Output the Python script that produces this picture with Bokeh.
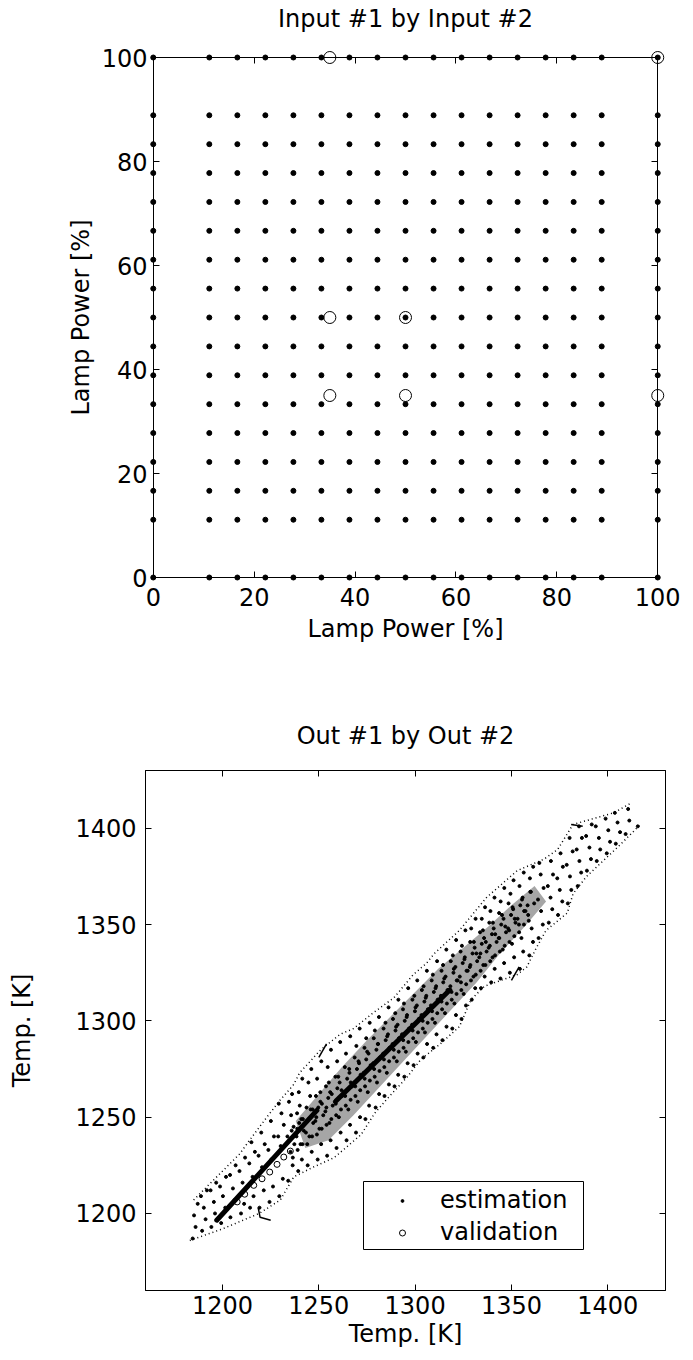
from bokeh.plotting import figure
from bokeh.models import LinearAxis, FixedTicker, Range1d, Legend, LegendItem, BoxAnnotation
from bokeh.layouts import column
from bokeh.embed import file_html
from bokeh.resources import INLINE

FONT = "DejaVu Sans"
FS = "24px"

# ---------------- top panel data ----------------
grid_levels = [11.11, 16.67, 22.22, 27.78, 33.33, 38.89, 44.44, 50.0,
               55.56, 61.11, 66.67, 72.22, 77.78, 83.33, 88.89]
edge_levels = [0.0, 100.0]
val1_x = [35, 100, 35, 50, 35, 50, 100]
val1_y = [100, 100, 50, 50, 35, 35, 35]
ticks1 = [0, 20, 40, 60, 80, 100]

# ---------------- bottom panel data ----------------
ticks2 = [1200, 1250, 1300, 1350, 1400]
est_x = [
    1184.5, 1186.0, 1185.2, 1187.1,
    1189.4, 1191.2, 1190.3, 1188.8, 1191.9,
    1194.2, 1196.1, 1195.5, 1193.8, 1196.7,
    1199.3, 1201.4, 1200.2, 1198.7, 1201.8,
    1204.1, 1206.3, 1205.4, 1203.9, 1206.8,
    1209.6, 1211.2, 1210.4, 1208.8, 1211.7,
    1214.3, 1216.1, 1215.6, 1213.9, 1216.8, 1215.0,
    1219.2, 1221.4, 1220.5, 1218.7, 1221.9, 1220.1,
    1224.4, 1226.2, 1225.3, 1223.8, 1226.7, 1225.1,
    1229.5, 1231.3, 1230.2, 1228.9, 1231.8, 1230.6, 1229.2,
    1234.1, 1236.4, 1235.3, 1233.7, 1236.9, 1235.6, 1234.5, 1236.1,
    1239.3, 1241.2, 1240.5, 1238.8, 1241.7, 1240.1, 1239.6, 1241.4,
    1244.2, 1246.3, 1245.1, 1243.8, 1246.8, 1245.5, 1244.6, 1246.1,
    1249.4, 1251.2, 1250.3, 1248.7, 1251.6, 1250.8, 1249.1, 1251.3,
    1254.3, 1256.1, 1255.5, 1253.9, 1256.7, 1255.2, 1254.6, 1256.3,
    1259.2, 1261.3, 1260.4, 1258.8, 1261.8, 1260.1, 1259.5, 1261.1,
    1264.4, 1266.2, 1265.3, 1263.7, 1266.6, 1265.8, 1264.1, 1266.3,
    1269.3, 1271.4, 1270.2, 1268.9, 1271.7, 1270.6, 1269.5, 1271.2,
    1274.2, 1276.1, 1275.4, 1273.8, 1276.9, 1275.1, 1274.6, 1276.4,
    1279.5, 1281.3, 1280.2, 1278.7, 1281.8, 1280.6, 1279.1, 1281.2,
    1284.1, 1286.4, 1285.3, 1283.8, 1286.7, 1285.5, 1284.6, 1286.2,
    1289.3, 1291.2, 1290.5, 1288.9, 1291.6, 1290.1, 1289.7, 1291.3,
    1294.4, 1296.1, 1295.2, 1293.8, 1296.8, 1295.6, 1294.2, 1296.4,
    1299.2, 1301.3, 1300.4, 1298.7, 1301.9, 1300.2, 1299.6, 1301.1,
    1304.3, 1306.2, 1305.1, 1303.9, 1306.6, 1305.5, 1304.4, 1306.1,
    1309.4, 1311.1, 1310.3, 1308.8, 1311.7, 1310.6, 1309.2, 1311.4,
    1314.2, 1316.3, 1315.5, 1313.7, 1316.8, 1315.1, 1314.5, 1316.2,
    1319.3, 1321.2, 1320.4, 1318.9, 1321.6, 1320.1, 1319.6, 1321.3,
    1324.1, 1326.4, 1325.2, 1323.8, 1326.7, 1325.6, 1324.3, 1326.1,
    1329.4, 1331.2, 1330.3, 1328.7, 1331.8, 1330.5, 1329.1, 1331.4,
    1334.2, 1336.1, 1335.4, 1333.9, 1336.7, 1335.2, 1334.6, 1336.3,
    1339.5, 1341.3, 1340.2, 1338.8, 1341.6, 1340.4, 1339.1, 1341.2,
    1344.3, 1346.2, 1345.5, 1343.7, 1346.8, 1345.1, 1344.4, 1346.3,
    1349.2, 1351.4, 1350.3, 1348.8, 1351.7, 1350.6, 1349.5, 1351.1,
    1354.4, 1356.1, 1355.2, 1353.9, 1356.6, 1355.5, 1354.2, 1356.4,
    1359.3, 1361.2, 1360.5, 1358.7, 1361.8, 1360.1, 1359.6, 1361.3,
    1364.1, 1366.3, 1365.4, 1363.8, 1366.7, 1365.2, 1364.5,
    1369.4, 1371.2, 1370.3, 1368.9, 1371.6, 1370.5,
    1374.2, 1376.4, 1375.1, 1373.8, 1376.7, 1375.5,
    1379.3, 1381.1, 1380.4, 1378.7, 1381.8, 1380.2,
    1384.4, 1386.2, 1385.3, 1383.9, 1386.6, 1385.1,
    1389.2, 1391.3, 1390.5, 1388.8, 1391.7,
    1394.3, 1396.1, 1395.4, 1393.8,
    1399.5, 1401.2, 1400.3, 1398.9,
    1404.2, 1406.4, 1405.1, 1403.7,
    1409.3, 1411.2, 1410.6,
    1415.6,
]
est_y = [
    1187, 1193, 1199, 1205,
    1191, 1197, 1203, 1209, 1212,
    1193, 1200, 1206, 1212, 1216,
    1195, 1203, 1209, 1214, 1219,
    1198, 1207, 1213, 1220, 1225,
    1200, 1205, 1216, 1222, 1229,
    1203, 1209, 1219, 1226, 1232, 1237,
    1203, 1212, 1224, 1230, 1236, 1242,
    1206, 1214, 1228, 1233, 1240, 1248,
    1209, 1218, 1235, 1240, 1246, 1252, 1257,
    1217, 1225, 1232, 1240, 1245, 1251, 1258, 1262,
    1222, 1228, 1236, 1244, 1249, 1256, 1263, 1270,
    1225, 1232, 1240, 1248, 1254, 1261, 1268, 1275,
    1228, 1236, 1244, 1250, 1257, 1263, 1270, 1279,
    1230, 1238, 1247, 1255, 1262, 1268, 1276, 1285,
    1234, 1242, 1250, 1257, 1264, 1271, 1279, 1289,
    1238, 1246, 1254, 1261, 1268, 1275, 1283, 1292,
    1242, 1250, 1258, 1266, 1272, 1279, 1287, 1296,
    1249, 1256, 1263, 1270, 1277, 1284, 1291, 1299,
    1255, 1262, 1268, 1275, 1281, 1288, 1295, 1302,
    1261, 1267, 1273, 1280, 1286, 1292, 1299, 1307,
    1266, 1272, 1279, 1285, 1291, 1297, 1304, 1311,
    1271, 1278, 1284, 1290, 1296, 1302, 1309, 1317,
    1277, 1283, 1289, 1295, 1301, 1307, 1313, 1321,
    1281, 1288, 1294, 1300, 1306, 1312, 1318, 1326,
    1286, 1293, 1299, 1305, 1311, 1317, 1324, 1331,
    1290, 1297, 1304, 1310, 1316, 1322, 1329, 1337,
    1296, 1303, 1309, 1315, 1321, 1327, 1334, 1342,
    1301, 1308, 1314, 1320, 1326, 1332, 1339, 1347,
    1311, 1317, 1323, 1329, 1335, 1341, 1348, 1353,
    1317, 1323, 1329, 1335, 1341, 1347, 1353, 1359,
    1320, 1327, 1333, 1339, 1345, 1351, 1357, 1364,
    1322, 1330, 1337, 1343, 1349, 1355, 1362, 1369,
    1325, 1333, 1340, 1347, 1353, 1359, 1366, 1373,
    1327, 1336, 1343, 1350, 1357, 1363, 1370, 1377,
    1334, 1341, 1348, 1355, 1361, 1367, 1374, 1380,
    1343, 1350, 1357, 1363, 1369, 1376, 1382,
    1351, 1358, 1364, 1370, 1376, 1383,
    1355, 1362, 1368, 1374, 1380, 1387,
    1361, 1368, 1375, 1381, 1388, 1395,
    1370, 1377, 1383, 1389, 1395, 1401,
    1378, 1384, 1390, 1396, 1402,
    1383, 1389, 1395, 1401,
    1387, 1393, 1399, 1405,
    1392, 1398, 1403, 1408,
    1397, 1404, 1410,
    1401,
]
# additional estimation samples in the dense middle of the cloud
core_pts_x = [
    1236.5, 1237.3, 1235.9,
    1239.0, 1238.4, 1239.8, 1238.7,
    1241.5, 1242.2, 1240.9,
    1244.0, 1243.3, 1244.8, 1243.6,
    1246.5, 1247.1, 1245.8,
    1249.0, 1248.2, 1249.7, 1248.5,
    1251.5, 1252.3, 1250.8,
    1254.0, 1253.4, 1254.9, 1253.7,
    1256.5, 1257.2, 1255.9,
    1259.0, 1258.3, 1259.6, 1258.6,
    1261.5, 1262.1, 1260.8,
    1264.0, 1263.2, 1264.7, 1263.5,
    1266.5, 1267.3, 1265.9,
    1269.0, 1268.4, 1269.8, 1268.6,
    1271.5, 1272.2, 1270.9,
    1274.0, 1273.3, 1274.6, 1273.7,
    1276.5, 1277.1, 1275.8,
    1279.0, 1278.2, 1279.9, 1278.5,
    1281.5, 1282.3, 1280.8,
    1284.0, 1283.4, 1284.7, 1283.6,
    1286.5, 1287.2, 1285.9,
    1289.0, 1288.3, 1289.8, 1288.5,
    1291.5, 1292.1, 1290.9,
    1294.0, 1293.2, 1294.6, 1293.7,
    1296.5, 1297.3, 1295.8,
    1299.0, 1298.4, 1299.9, 1298.6,
    1301.5, 1302.2, 1300.9,
    1304.0, 1303.3, 1304.8, 1303.5,
    1306.5, 1307.1, 1305.8,
    1309.0, 1308.2, 1309.7, 1308.6,
    1311.5, 1312.3, 1310.9,
    1314.0, 1313.4, 1314.6, 1313.7,
    1316.5, 1317.2, 1315.8,
    1319.0, 1318.3, 1319.9, 1318.5,
    1321.5, 1322.1, 1320.9,
    1324.0, 1323.2, 1324.7, 1323.6,
    1326.5, 1327.3, 1325.8,
    1329.0, 1328.4, 1329.8, 1328.6,
    1331.5, 1332.2, 1330.9,
    1334.0, 1333.3, 1334.6, 1333.7,
    1336.5, 1337.1, 1335.8,
    1339.0, 1338.2, 1339.9, 1338.5,
    1341.5, 1342.3, 1340.8,
    1344.0, 1343.4, 1344.7, 1343.6,
    1346.5, 1347.2, 1345.9,
    1349.0, 1348.3, 1349.8, 1348.5,
    1351.5, 1352.1, 1350.9,
    1354.0, 1353.2, 1354.6,
    1356.5, 1357.3, 1355.8,
    1359.0, 1358.4, 1359.8,
]
core_pts_y = [
    1229, 1236, 1243,
    1233, 1240, 1247, 1252,
    1236, 1243, 1249,
    1236, 1242, 1249, 1255,
    1240, 1247, 1254,
    1241, 1248, 1255, 1261,
    1244, 1251, 1258,
    1246, 1253, 1260, 1266,
    1249, 1256, 1263,
    1251, 1258, 1265, 1271,
    1254, 1261, 1268,
    1256, 1263, 1270, 1276,
    1259, 1266, 1273,
    1261, 1268, 1275, 1281,
    1264, 1271, 1278,
    1266, 1273, 1280, 1286,
    1269, 1276, 1283,
    1271, 1278, 1285, 1291,
    1274, 1281, 1288,
    1276, 1283, 1290, 1296,
    1279, 1286, 1293,
    1281, 1288, 1295, 1301,
    1284, 1291, 1298,
    1286, 1293, 1300, 1306,
    1289, 1296, 1303,
    1291, 1298, 1305, 1311,
    1294, 1301, 1308,
    1296, 1303, 1310, 1316,
    1299, 1306, 1313,
    1301, 1308, 1315, 1321,
    1304, 1311, 1318,
    1306, 1313, 1320, 1326,
    1309, 1316, 1323,
    1311, 1318, 1325, 1331,
    1314, 1321, 1328,
    1316, 1323, 1330, 1336,
    1319, 1326, 1333,
    1321, 1328, 1335, 1341,
    1324, 1331, 1338,
    1326, 1333, 1340, 1346,
    1329, 1336, 1343,
    1331, 1338, 1345, 1351,
    1334, 1341, 1348,
    1336, 1343, 1350, 1356,
    1339, 1346, 1353,
    1341, 1348, 1355, 1361,
    1344, 1351, 1358,
    1346, 1353, 1360,
    1350, 1357, 1364,
    1352, 1360, 1367,
]
# dotted trajectories along the cloud's upper and lower edges
upper_x = [1185, 1192, 1199, 1209, 1214, 1223, 1230, 1237, 1240, 1251, 1261, 1268,
           1278, 1289, 1299, 1306, 1310, 1323, 1337, 1353, 1367, 1374, 1382, 1403, 1412]
upper_y = [1207, 1214, 1221, 1231, 1238, 1250, 1259, 1267, 1273, 1285, 1293, 1296,
           1304, 1312, 1324, 1330, 1335, 1347, 1364, 1378, 1384, 1389, 1402, 1408, 1413]
lower_x = [1183, 1200, 1219, 1230, 1237, 1247, 1258, 1272, 1279, 1285, 1296, 1303,
           1313, 1323, 1329, 1336, 1353, 1358, 1363, 1368, 1379, 1382, 1389, 1405, 1417]
lower_y = [1186, 1192, 1200, 1207, 1219, 1224, 1229, 1241, 1252, 1259, 1271, 1280,
           1288, 1297, 1311, 1318, 1324, 1328, 1338, 1347, 1356, 1366, 1375, 1390, 1402]
# dense core of the estimation cloud
core_x = [1238, 1250, 1262, 1275, 1288, 1300, 1312, 1325, 1338, 1350, 1362,
          1368, 1356, 1344, 1332, 1318, 1305, 1292, 1280, 1268, 1255, 1243]
core_y = [1248, 1262, 1276, 1290, 1303, 1315, 1327, 1338, 1349, 1360, 1370,
          1362, 1348, 1335, 1320, 1305, 1291, 1277, 1264, 1251, 1238, 1234]
# thick, overlapping runs of estimation samples
ridge_xs = [[1197, 1249], [1259, 1318]]
ridge_ys = [[1196.5, 1253.5], [1258.5, 1316]]
dash_xs = [[1250, 1254], [1218.5, 1219.5, 1225], [1350, 1354], [1381, 1387]]
dash_ys = [[1281, 1288], [1203, 1198, 1196.5], [1321, 1328], [1402, 1401]]
val2_x = [1207.6, 1211.5, 1216.2, 1220.5, 1224.5, 1228.3, 1231.8, 1235.2]
val2_y = [1206.0, 1210.0, 1214.6, 1218.0, 1221.5, 1225.5, 1229.3, 1232.4]


def text_style(ax, tick_labels=True):
    ax.major_label_text_font = FONT
    ax.major_label_text_color = "black"
    if tick_labels:
        ax.major_label_text_font_size = FS
    ax.axis_label_text_font = FONT
    ax.axis_label_text_font_style = "normal"
    ax.axis_label_text_font_size = FS
    ax.axis_label_text_color = "black"


def tick_style(ax):
    ax.major_tick_in = 6
    ax.major_tick_out = 0
    ax.minor_tick_line_color = None
    ax.axis_line_color = "black"
    ax.axis_line_width = 1
    ax.major_tick_line_color = "black"


# ---------------- top figure ----------------
# frame padded by 8 px so the samples on the 0 / 100 borders are drawn whole;
# the box itself is drawn by axes fixed at 0 and 100
pad = 8 / 5.2
p1 = figure(width=693, height=700, x_range=Range1d(-pad, 100 + pad), y_range=Range1d(-pad, 100 + pad),
            min_border_left=137, min_border_right=20, min_border_top=49, min_border_bottom=115,
            title=None, output_backend="svg", toolbar_location=None)
p1.xgrid.visible = False
p1.ygrid.visible = False
p1.outline_line_color = None
blank1 = {t: "" for t in ticks1}
# label-only axes in the side panels
lx1, ly1 = p1.below[0], p1.left[0]
for ax in (lx1, ly1):
    ax.ticker = FixedTicker(ticks=ticks1)
    ax.axis_line_color = None
    ax.major_tick_line_color = None
    ax.minor_tick_line_color = None
    ax.major_tick_in = 0
    ax.major_tick_out = 0
    text_style(ax)
lx1.axis_label = "Lamp Power [%]"
ly1.axis_label = "Lamp Power [%]"
lx1.major_label_standoff = 2
ly1.major_label_standoff = -2
lx1.axis_label_standoff = 6
ly1.axis_label_standoff = 4
ttl1 = LinearAxis(ticker=FixedTicker(ticks=ticks1), major_label_overrides=blank1,
                  major_label_standoff=0, major_label_text_font_size="10px",
                  axis_label="Input #1 by Input #2", axis_label_standoff=17,
                  axis_line_color=None, major_tick_line_color=None, minor_tick_line_color=None,
                  major_tick_in=0, major_tick_out=0)
text_style(ttl1, tick_labels=False)
p1.add_layout(ttl1, "above")
# box axes at the data limits
for loc, where in (("below", 0), ("left", 0), ("above", 100), ("right", 100)):
    ax = LinearAxis(ticker=FixedTicker(ticks=ticks1), major_label_overrides=blank1,
                    major_label_standoff=0, major_label_text_font_size="10px",
                    fixed_location=where, bounds=(0, 100))
    tick_style(ax)
    p1.add_layout(ax, loc)

gx, gy = [], []
for a in grid_levels:
    for b in grid_levels:
        gx.append(a); gy.append(b)
for e in edge_levels:
    for b in grid_levels:
        gx.append(e); gy.append(b)
        gx.append(b); gy.append(e)
    for e2 in edge_levels:
        gx.append(e); gy.append(e2)
p1.scatter(gx, gy, size=5, color="black")
p1.scatter(val1_x, val1_y, size=12, marker="circle", fill_color=None, line_color="black", line_width=1)

# ---------------- bottom figure ----------------
p2 = figure(width=693, height=660, x_range=Range1d(1160, 1430), y_range=Range1d(1160, 1430),
            min_border_left=145, min_border_right=28, min_border_top=70, min_border_bottom=70,
            title=None, output_backend="svg", toolbar_location=None)
p2.xgrid.visible = False
p2.ygrid.visible = False
p2.outline_line_color = "black"
blank2 = {t: "" for t in ticks2}
mx2, my2 = p2.below[0], p2.left[0]
for ax in (mx2, my2):
    ax.ticker = FixedTicker(ticks=ticks2)
    tick_style(ax)
    text_style(ax)
ttl2 = LinearAxis(ticker=FixedTicker(ticks=ticks2), major_label_overrides=blank2,
                  major_label_standoff=0, major_label_text_font_size="10px",
                  axis_label="Out #1 by Out #2", axis_label_standoff=21)
tick_style(ttl2)
text_style(ttl2, tick_labels=False)
p2.add_layout(ttl2, "above")
rax2 = LinearAxis(ticker=FixedTicker(ticks=ticks2), major_label_overrides=blank2,
                  major_label_standoff=0, major_label_text_font_size="10px")
tick_style(rax2)
p2.add_layout(rax2, "right")
mx2.axis_label = "Temp. [K]"
my2.axis_label = "Temp. [K]"
mx2.major_label_standoff = 5
my2.major_label_standoff = 9
mx2.axis_label_standoff = 3
my2.axis_label_standoff = 36

p2.patch(core_x, core_y, fill_color="black", fill_alpha=0.35, line_color=None)
p2.line(upper_x, upper_y, line_color="black", line_width=1.5, line_dash="1 3")
p2.line(lower_x, lower_y, line_color="black", line_width=1.5, line_dash="1 3")
p2.multi_line(ridge_xs, ridge_ys, line_color="black", line_width=5, line_cap="round")
p2.multi_line(dash_xs, dash_ys, line_color="black", line_width=1.5)
r_est = p2.scatter(est_x, est_y, size=3, color="black")
p2.scatter(core_pts_x, core_pts_y, size=3, color="black")
r_val = p2.scatter(val2_x, val2_y, size=6, marker="circle", fill_color=None, line_color="black", line_width=1)

# legend frame (screen units relative to the plot frame)
p2.add_layout(BoxAnnotation(left=218, right=438, bottom=41, top=109,
                            left_units="screen", right_units="screen",
                            bottom_units="screen", top_units="screen",
                            fill_color="white", fill_alpha=1.0,
                            line_color="black", line_width=1, line_alpha=1.0))
common = dict(border_line_color=None, background_fill_alpha=0.0,
              label_text_font=FONT, label_text_font_size=FS, label_text_color="black",
              padding=0, spacing=0, glyph_width=66, label_height=30,
              label_standoff=5, margin=0)
p2.add_layout(Legend(items=[LegendItem(label="estimation", renderers=[r_est])],
                     location=(224, 75), glyph_height=7, **common))
p2.add_layout(Legend(items=[LegendItem(label="validation", renderers=[r_val])],
                     location=(224, 43), glyph_height=15, **common))

layout = column(p1, p2, spacing=0)
open("out.html", "w").write(file_html(layout, INLINE))
